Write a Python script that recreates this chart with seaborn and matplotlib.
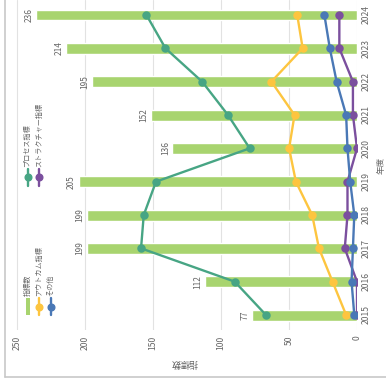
import matplotlib
matplotlib.use("Agg")
import matplotlib.pyplot as plt
from matplotlib.lines import Line2D
from matplotlib.patches import Rectangle
import seaborn as sns

years = ["2015", "2016", "2017", "2018", "2019", "2020", "2021", "2022", "2023", "2024"]
total = [77, 112, 199, 199, 205, 136, 152, 195, 214, 236]
process = [67, 90, 159, 157, 148, 79, 95, 114, 141, 155]
outcome = [8, 18, 28, 33, 45, 50, 46, 63, 40, 44]
structure = [0, 0, 9, 7, 7, 0, 3, 3, 13, 13]
other = [2, 4, 3, 2, 5, 7, 8, 15, 20, 24]

GREEN = "#a8d46f"
TEAL = "#47a584"
YELLOW = "#fdc53f"
BLUE = "#4a78b6"
PURPLE = "#7b4f9e"
TEXT = "#666666"

sns.set_theme(style="white")
plt.rcParams["font.family"] = ["Noto Sans CJK JP", "DejaVu Sans"]

W, H = 386, 390
fig = plt.figure(figsize=(W / 100, H / 100), dpi=100)


def fx(px):
    return px / W


def fy(py):
    return 1 - py / H


ax = fig.add_axes([fx(12), fy(330), fx(357) - fx(12), fy(0) - fy(330)])

sns.barplot(x=total, y=years, orient="h", color=GREEN, saturation=1,
            width=0.33, ax=ax, zorder=2)

series = [(process, TEAL), (outcome, YELLOW), (structure, PURPLE), (other, BLUE)]
for vals, col in series:
    sns.pointplot(x=vals, y=years, orient="h", color=col, markers="o",
                  markersize=4.8, linewidth=1.7, errorbar=None, ax=ax)

for i, v in enumerate(total):
    ax.annotate(str(v), (v, i), xytext=(-5, 0), textcoords="offset points",
                rotation=90, ha="center", va="center", fontsize=6, color=TEXT)

ax.set_xlim(254, 0)
ax.set_ylim(-0.45, 9.45)
ax.set_xticks([0, 50, 100, 150, 200, 250])
ax.grid(axis="x", color="#e2e2e2", linewidth=0.8, zorder=0)
ax.set_axisbelow(True)
for s in ax.spines.values():
    s.set_visible(False)

ax.yaxis.tick_right()
ax.yaxis.set_label_position("right")
ax.tick_params(axis="both", length=0, colors=TEXT, labelsize=6.2)
ax.tick_params(axis="y", pad=3)
ax.tick_params(axis="x", pad=4)
for lab in ax.get_yticklabels():
    lab.set_rotation(90)
    lab.set_va("center")
for lab in ax.get_xticklabels():
    lab.set_rotation(90)
    lab.set_ha("center")
    lab.set_va("top")

ax.set_xlabel("指標数", fontsize=6.5, color=TEXT, rotation=180, labelpad=6)
ax.set_ylabel("年度", fontsize=6.2, color=TEXT, rotation=90, labelpad=5)

# legend drawn vertically in the left margin
LFS = 5.1
entries = [
    ("指標数", GREEN, "bar", 28, 315),
    ("アウトカム指標", YELLOW, "line", 39, 315),
    ("その他", BLUE, "line", 50.5, 315),
    ("プロセス指標", TEAL, "line", 27.5, 186),
    ("ストラクチャー指標", PURPLE, "line", 39, 186),
]
for label, col, kind, x, yb in entries:
    ytop = yb - 17
    if kind == "bar":
        fig.add_artist(Rectangle((fx(x - 2.2), fy(yb)), fx(4.4), fy(ytop) - fy(yb),
                                 transform=fig.transFigure, color=col, lw=0))
    else:
        fig.add_artist(Line2D([fx(x), fx(x)], [fy(yb), fy(ytop)],
                              transform=fig.transFigure, color=col, lw=1.7))
        fig.add_artist(Line2D([fx(x)], [fy((yb + ytop) / 2)], marker="o",
                              markersize=4.8, transform=fig.transFigure, color=col))
    fig.text(fx(x), fy(ytop - 2), label, rotation=90, ha="center", va="bottom",
             fontsize=LFS, color=TEXT)

# outer frame lines
fig.add_artist(Line2D([fx(5), fx(5)], [fy(0), fy(377)], transform=fig.transFigure,
                      color="#c8c8c8", lw=1.2))
fig.add_artist(Line2D([fx(5), fx(386)], [fy(377), fy(377)], transform=fig.transFigure,
                      color="#c8c8c8", lw=1.2))

fig.savefig("out.png", dpi=100)
